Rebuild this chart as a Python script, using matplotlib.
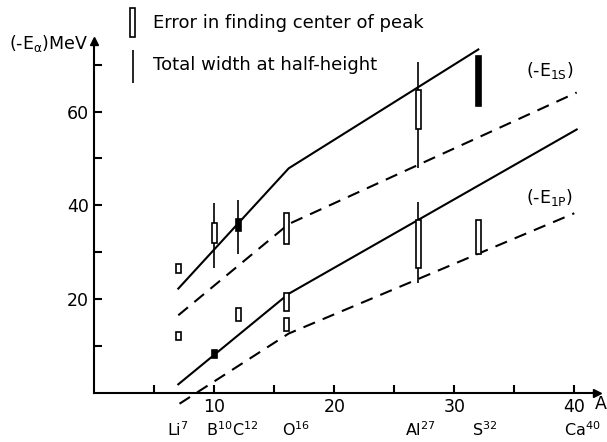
import matplotlib
matplotlib.use('Agg')
import matplotlib.pyplot as plt

# mass number A of the measured nuclei and their labels
nuclei = ['Li$^7$', 'B$^{10}$', 'C$^{12}$', 'O$^{16}$', 'Al$^{27}$', 'S$^{32}$', 'Ca$^{40}$']
nuclei_a = [7, 10, 12, 16, 27, 32, 40]

# error in finding center of peak: A, low, high (MeV), filled box or not
box_a = [7, 7, 10, 10, 12, 12, 16, 16, 16, 27, 27, 32, 32]
box_low = [25.5, 11.2, 31.9, 7.3, 34.6, 15.3, 31.7, 17.4, 13.1, 56.2, 26.5, 61.2, 29.7]
box_high = [27.4, 13.0, 36.2, 9.1, 37.0, 18.0, 38.3, 21.3, 16.0, 64.6, 36.9, 71.8, 36.8]
box_filled = [False, False, False, True, True, False, False, False, False, False, False, True, False]

# total width at half-height
width_a = [10, 12, 27, 27]
width_low = [26.5, 29.7, 47.9, 23.3]
width_high = [40.4, 41.1, 70.7, 40.8]

# theoretical curves
e1s_solid_a = [7.0, 16.2, 32.0]
e1s_solid_e = [22.2, 47.9, 73.3]
e1s_dash_a = [7.0, 16.2, 40.2]
e1s_dash_e = [16.5, 36.0, 64.1]
e1p_solid_a = [7.0, 16.2, 40.2]
e1p_solid_e = [1.75, 21.1, 56.2]
e1p_dash_a = [7.1, 16.2, 40.0]
e1p_dash_e = [-2.4, 12.6, 38.3]

plt.rcParams['font.family'] = ['DejaVu Sans']
plt.rcParams['mathtext.default'] = 'regular'

fig = plt.figure(figsize=(6.07, 4.42), dpi=100)
ax = fig.add_axes([94.3 / 607, 49.5 / 442, 502.8 / 607, 351 / 442])
ax.set_xlim(0, 41.9)
ax.set_ylim(0, 75)

for s in ['top', 'right']:
    ax.spines[s].set_visible(False)
for s in ['left', 'bottom']:
    ax.spines[s].set_linewidth(1.5)

ax.set_xticks([10, 20, 30, 40])
ax.set_xticks([5, 15, 25, 35], minor=True)
ax.set_yticks([20, 40, 60])
ax.set_yticks([10, 30, 50, 70], minor=True)
ax.tick_params(which='both', direction='in', length=6, width=1.5, labelsize=12.5, pad=4)

# arrow heads on the axes
ax.plot([0], [75], marker='^', color='black', markersize=6, clip_on=False)
ax.plot([41.9], [0], marker='>', color='black', markersize=6, clip_on=False)

# curves
ax.plot(e1s_solid_a, e1s_solid_e, color='black', lw=1.5, clip_on=False)
ax.plot(e1s_dash_a, e1s_dash_e, color='black', lw=1.5, dashes=(6, 4), clip_on=False)
ax.plot(e1p_solid_a, e1p_solid_e, color='black', lw=1.5, clip_on=False)
ax.plot(e1p_dash_a, e1p_dash_e, color='black', lw=1.5, dashes=(6, 4), clip_on=False)

# data
ax.vlines(width_a, width_low, width_high, color='black', lw=1.2)
heights = [h - l for h, l in zip(box_high, box_low)]
colors = ['black' if f else 'white' for f in box_filled]
ax.bar(box_a, heights, bottom=box_low, width=0.4, color=colors,
       edgecolor='black', linewidth=1.2, zorder=3)

# legend
ax.bar([3.2], [6.1], bottom=[76.0], width=0.4, color='white', edgecolor='black',
       linewidth=1.2, clip_on=False)
ax.vlines([3.2], [66.2], [73.2], color='black', lw=1.2, clip_on=False)
ax.text(4.9, 79.0, 'Error in finding center of peak', fontsize=13, va='center')
ax.text(4.9, 69.9, 'Total width at half-height', fontsize=13, va='center')

# labels
ax.text(-0.5, 74.5, r'(-E$_{\alpha}$)MeV', fontsize=12.5, ha='right', va='center')
ax.text(42.2, -2.5, 'A', fontsize=12.5, ha='center', va='center')
ax.text(36.0, 68.9, r'(-E$_{1S}$)', fontsize=12.5, va='center')
ax.text(36.0, 41.6, r'(-E$_{1P}$)', fontsize=12.5, va='center')

# nucleus names sit left-aligned a little before their A value
label_shift = [-0.97, -0.7, -0.5, -0.4, -1.1, -0.55, -0.9]
for name, a, dx in zip(nuclei, nuclei_a, label_shift):
    ax.text(a + dx, -8.0, name, fontsize=11.5, ha='left', va='center')

fig.savefig('out.png', dpi=100)
